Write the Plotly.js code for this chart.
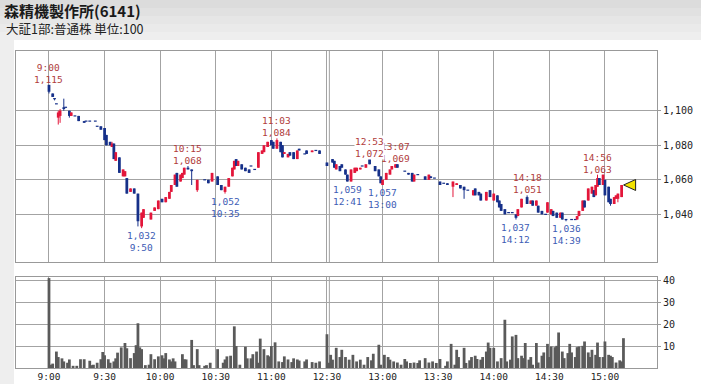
<!DOCTYPE html>
<html><head><meta charset="utf-8">
<script src="https://cdn.plot.ly/plotly-3.0.1.min.js"></script>
<style>html,body{margin:0;padding:0;background:#fff;}#chart{width:701px;height:384px;}</style>
</head><body><div id="chart"></div>
<script>
const titleText = '森精機製作所(6141)';
const subtitleText = '大証1部:普通株 単位:100';

const candleTimes = ['9:00','9:02','9:03','9:04','9:05','9:06','9:08','9:09','9:11','9:12','9:14','9:16','9:19','9:20','9:22','9:25','9:26','9:28','9:30','9:31','9:33','9:34','9:35','9:36','9:38','9:40','9:41','9:42','9:44','9:46','9:48','9:50','9:51','9:55','9:57','9:59','10:01','10:03','10:05','10:06','10:08','10:09','10:11','10:12','10:13','10:15','10:17','10:20','10:24','10:26','10:28','10:31','10:33','10:35','10:37','10:39','10:40','10:41','10:42','10:44','10:46','10:48','10:49','10:51','10:53','10:55','10:56','10:58','11:00','11:01','11:03','11:05','11:06','11:07','11:09','11:10','11:12','11:14','11:15','11:18','11:19','11:22','11:24','11:26',
'12:30','12:33','12:34','12:35','12:37','12:38','12:40','12:41','12:43','12:45','12:46','12:48','12:49','12:51','12:53','12:56','12:58','12:59','13:00','13:02','13:04','13:05','13:07','13:08','13:12','13:14','13:16','13:17','13:19','13:23','13:25','13:26','13:28','13:31','13:33','13:35','13:38','13:40','13:42','13:44','13:46','13:49','13:50','13:52','13:53','13:56','13:58','14:00','14:02','14:03','14:04','14:06','14:08','14:10','14:12','14:13','14:15','14:18','14:20','14:21','14:23','14:24','14:26','14:28','14:29','14:31','14:32','14:34','14:36','14:37','14:39','14:42','14:44','14:45','14:46','14:48','14:49','14:51','14:53','14:54','14:55','14:56','14:57','14:59','15:00','15:02','15:03','15:05','15:06','15:07','15:09'];
const openP = [1115,1110,1107,1104,1096,1097,1102,1102,1100,1097,1097,1097,1094,1094,1094,1094,1091,1091,1090,1086,1082,1079,1081,1071,1073,1062,1062,1061,1053,1055,1052,1033,1038,1037,1042,1043,1049,1047,1049,1053,1057,1064,1059,1061,1063,1067,1066,1054,1060,1060,1059,1062,1057,1053,1056,1062,1066,1072,1068,1069,1067,1066,1068,1066,1067,1075,1076,1079,1083,1082,1078,1082,1080,1075,1073,1076,1076,1072,1078,1075,1077,1076,1077,1077,
1070,1072,1071,1066,1068,1069,1066,1063,1059,1064,1065,1066,1068,1067,1072,1068,1066,1062,1057,1060,1063,1066,1067,1069,1065,1064,1064,1059,1063,1062,1060,1062,1061,1059,1058,1058,1056,1057,1057,1056,1054,1051,1055,1053,1052,1048,1054,1048,1051,1048,1046,1043,1041,1041,1040,1039,1044,1050,1046,1048,1045,1045,1042,1040,1041,1040,1042,1041,1038,1041,1037,1037,1037,1037,1039,1042,1048,1048,1052,1054,1051,1056,1061,1057,1060,1056,1049,1046,1049,1049,1050];
const highP = [1115,1110,1107,1104,1100,1101,1107,1102,1100,1099,1097,1097,1094,1094,1094,1094,1091,1091,1090,1086,1082,1082,1081,1076,1073,1066,1065,1061,1055,1055,1052,1041,1043,1041,1044,1048,1049,1050,1053,1057,1063,1064,1063,1064,1067,1068,1066,1060,1060,1060,1064,1062,1057,1056,1061,1067,1071,1072,1071,1069,1067,1066,1068,1066,1076,1077,1080,1082,1083,1082,1084,1082,1080,1076,1075,1076,1076,1077,1078,1075,1077,1077,1077,1077,
1070,1072,1071,1069,1068,1069,1066,1063,1066,1067,1067,1067,1068,1069,1072,1068,1066,1062,1060,1064,1066,1068,1069,1069,1065,1064,1064,1063,1063,1062,1063,1062,1061,1059,1058,1058,1059,1058,1057,1056,1054,1054,1055,1053,1052,1053,1054,1052,1051,1048,1046,1043,1041,1041,1040,1043,1049,1051,1048,1048,1048,1045,1042,1040,1047,1043,1042,1041,1041,1041,1037,1037,1037,1039,1042,1048,1048,1055,1056,1054,1057,1063,1061,1063,1060,1056,1049,1050,1051,1052,1057];
const lowP = [1110,1108,1106,1104,1092,1093,1100,1102,1096,1097,1097,1094,1093,1094,1094,1094,1091,1089,1083,1080,1080,1079,1072,1071,1064,1062,1062,1052,1053,1052,1033,1032,1038,1037,1042,1043,1047,1047,1049,1053,1057,1056,1059,1061,1063,1066,1057,1053,1060,1058,1059,1057,1054,1052,1056,1062,1066,1068,1068,1066,1065,1064,1068,1066,1067,1075,1076,1079,1080,1078,1078,1076,1073,1075,1073,1074,1072,1072,1077,1075,1075,1076,1077,1075,
1068,1070,1067,1066,1065,1067,1063,1059,1059,1064,1065,1066,1068,1067,1069,1065,1062,1058,1057,1060,1063,1066,1067,1067,1065,1063,1059,1059,1063,1060,1060,1061,1061,1057,1058,1057,1050,1057,1055,1049,1054,1051,1051,1051,1048,1048,1050,1048,1047,1044,1042,1040,1041,1041,1037,1039,1044,1046,1046,1045,1045,1041,1040,1040,1041,1040,1039,1038,1038,1037,1036,1037,1037,1037,1039,1042,1044,1048,1052,1050,1051,1056,1057,1057,1051,1047,1045,1046,1049,1047,1050];
const closeP = [1111,1108,1107,1104,1099,1100,1101,1102,1097,1099,1097,1094,1093,1094,1094,1094,1091,1089,1083,1080,1080,1081,1072,1076,1064,1066,1065,1052,1055,1052,1036,1041,1043,1041,1044,1048,1047,1050,1053,1057,1063,1056,1063,1064,1067,1066,1065,1060,1060,1058,1064,1057,1054,1056,1061,1067,1071,1068,1071,1066,1065,1064,1068,1066,1076,1077,1080,1082,1080,1078,1083,1076,1073,1076,1075,1074,1072,1077,1077,1075,1075,1077,1077,1075,
1068,1070,1067,1069,1065,1067,1063,1059,1066,1067,1067,1067,1068,1069,1069,1065,1062,1058,1060,1064,1066,1068,1069,1067,1065,1063,1059,1063,1063,1060,1063,1061,1061,1057,1058,1057,1059,1058,1055,1054,1054,1054,1051,1051,1048,1053,1050,1052,1047,1044,1042,1040,1041,1041,1038,1043,1049,1046,1048,1045,1048,1041,1040,1040,1047,1043,1039,1038,1041,1037,1037,1037,1037,1039,1042,1048,1044,1055,1056,1050,1057,1061,1057,1063,1051,1047,1046,1050,1051,1052,1057];

const volTimes = ['9:00','9:01','9:02','9:04','9:05','9:07','9:08','9:10','9:11','9:13','9:15','9:17','9:19','9:22','9:23','9:24','9:26','9:28','9:29','9:30','9:32','9:33','9:35','9:36','9:37','9:39','9:41','9:42','9:44','9:46','9:47','9:48','9:49','9:50','9:52','9:54','9:55','9:57','9:59','10:01','10:02','10:03','10:05','10:06','10:07','10:08','10:12','10:13','10:14','10:17','10:18','10:20','10:21','10:24','10:25','10:27','10:31','10:34','10:35','10:36','10:38','10:40','10:41','10:43','10:46','10:47','10:49','10:50','10:52','10:53','10:54','10:56','10:58','10:59','11:00','11:02','11:04','11:06','11:07','11:09','11:11','11:12','11:14','11:15','11:18','11:19','11:22','11:24','11:26',
'12:30','12:31','12:32','12:33','12:35','12:37','12:38','12:40','12:42','12:44','12:46','12:48','12:50','12:52','12:54','12:55','12:58','12:59','13:01','13:03','13:04','13:06','13:08','13:10','13:12','13:13','13:15','13:17','13:19','13:20','13:23','13:25','13:27','13:29','13:31','13:34','13:35','13:37','13:39','13:40','13:41','13:44','13:45','13:47','13:48','13:50','13:51','13:53','13:54','13:56','13:57','13:58','14:00','14:02','14:04','14:06','14:07','14:09','14:10','14:12','14:13','14:15','14:16','14:17','14:19','14:20','14:21','14:23','14:24','14:26','14:27','14:29','14:30','14:31','14:33','14:34','14:35','14:37','14:38','14:40','14:41','14:42','14:44','14:45','14:46','14:48','14:49','14:51','14:52','14:53','14:55','14:56','14:57','14:59','15:00','15:02','15:03','15:04','15:06','15:08','15:09','15:10'];
const volValues = [41,1.5,2,7.5,5,4.4,3,2.4,3.9,1,1,4,4,3.3,1.3,1.5,2.4,4,7.3,5.8,4,2.4,3,4.4,7,9.4,11.4,9,4.5,6.8,10.4,20.4,9.4,8.6,1.3,1.5,6.3,4,5.3,5.8,4.4,6.8,3.9,3,4.4,3,6.3,4,3.9,12.8,1.3,8.6,1.3,1,1.3,2.4,8.6,2.4,3.9,5.3,5.6,19,10,1.5,9.7,4.4,4.4,6.3,7.5,2.4,13.4,8.6,5.8,5.3,10,11.7,3,2.7,5.3,3.9,2.7,4.4,3.9,3.4,3,3.9,2.7,2.4,3,
15.4,2.4,6,3.8,9.2,5,8.3,5,3.8,6,3,3.8,1.5,5,3.5,6.5,10.6,1.5,6,5,3.8,3,2.5,1.5,4.1,3,2.3,2.5,2.3,3.5,4.5,2.5,3,2.3,4.1,1,3,11,1.5,8.3,5,9.2,2.3,3.5,5,5.6,4.1,3.8,5,7.5,11.6,9.2,9.2,3,4.5,22,3,3.8,14.4,15.1,4.5,5.6,4.5,11.4,3.8,5,1.5,11.4,2.5,5.6,7.1,11,5,9.8,9.5,10.1,16.2,7.5,4.5,6.8,11,7.1,5,9.5,9.8,10.1,12.1,7.1,5,8.3,6,11.6,5,5,12.1,6,5.6,5,2.5,3.5,3,13.6];

const timeTickTimes = ['9:00','9:30','10:00','10:30','11:00','12:30','13:00','13:30','14:00','14:30','15:00'];
const priceTicks = [1040,1060,1080,1100];
const volTicks = [10,20,30,40];

const highMarkTimes = ['9:00','10:15','11:03','13:07','12:53','14:18','14:56'];
const highMarkPrices = [1115,1068,1084,1069,1072,1051,1063];
const lowMarkTimes = ['9:50','10:35','12:41','13:00','14:12','14:39'];
const lowMarkPrices = [1032,1052,1059,1057,1037,1036];

// ---- helpers ----
function toIdx(t){
  const [h,m] = t.split(':').map(Number);
  const tod = h*60+m;
  return tod >= 750 ? tod - 750 + 150 : tod - 540;
}
const fmt = v => v.toLocaleString('en-US');

const W=701,H=384,ML=16,MR=44,MT=51,MB=16;
const PW=W-ML-MR, PH=H-MT-MB;
const px2x = p => (p-ML)/PW;
const py2y = p => (H-MB-p)/PH;

const RED='#e3173b', BLUE='#17318a';
const FONT='DejaVu Sans Mono, monospace';

const cx = candleTimes.map(toIdx);
const isUp = closeP.map((c,i)=>c>openP[i]);
const minBody = 0.7;
const bodyH = openP.map((o,i)=>Math.max(Math.abs(closeP[i]-o),minBody));
const bodyB = openP.map((o,i)=>Math.min(o,closeP[i]) - (bodyH[i]-Math.abs(closeP[i]-o))/2);
const colors = isUp.map(u=>u?RED:BLUE);

function wicks(up){
  const x=[],y=[];
  cx.forEach((m,i)=>{ if(isUp[i]===up){ x.push(m,m,null); y.push(lowP[i],highP[i],null);} });
  return {x,y};
}
const wu=wicks(true), wd=wicks(false);

const traces = [
  {type:'scatter',mode:'lines',x:wu.x,y:wu.y,line:{color:RED,width:1},xaxis:'x',yaxis:'y',hoverinfo:'skip',showlegend:false},
  {type:'scatter',mode:'lines',x:wd.x,y:wd.y,line:{color:BLUE,width:1},xaxis:'x',yaxis:'y',hoverinfo:'skip',showlegend:false},
  {type:'bar',x:cx,y:bodyH,base:bodyB,width:1.5,marker:{color:colors,line:{width:0}},xaxis:'x',yaxis:'y',showlegend:false},
  {type:'bar',x:volTimes.map(toIdx),y:volValues,width:1.5,marker:{color:'#5a5a5a',line:{width:0}},xaxis:'x2',yaxis:'y2',showlegend:false}
];

const xRange=[-17.8,328.1];
const tickVals = timeTickTimes.map(toIdx);
const gridC='#a3a3a3', lineC='#999999';
const xCommon = {range:xRange,tickmode:'array',tickvals:tickVals,ticktext:timeTickTimes,showgrid:true,gridcolor:gridC,gridwidth:1,zeroline:false,showline:true,linecolor:lineC,linewidth:1,mirror:true,ticks:'',fixedrange:true};

const annotations = [];
highMarkTimes.forEach((t,i)=>{
  annotations.push({xref:'x',yref:'y',x:toIdx(t),y:highMarkPrices[i],text:t+'<br>'+fmt(highMarkPrices[i]),showarrow:false,xanchor:'center',yanchor:'bottom',yshift:-1,font:{family:FONT,size:9.5,color:'#b03c3c'},bgcolor:(t==='12:53')?'#ffffff':'rgba(0,0,0,0)',borderpad:0});
});
lowMarkTimes.forEach((t,i)=>{
  annotations.push({xref:'x',yref:'y',x:toIdx(t),y:lowMarkPrices[i],text:fmt(lowMarkPrices[i])+'<br>'+t,showarrow:false,xanchor:'center',yanchor:'top',yshift:-1,font:{family:FONT,size:9.5,color:'#3d5cb5'},borderpad:0});
});
annotations.push({xref:'paper',yref:'paper',x:px2x(4),y:py2y(28),xanchor:'left',yanchor:'middle',text:subtitleText,showarrow:false,font:{family:'Noto Sans CJK JP, sans-serif',size:12.5,color:'#222'}});

const shapes = [];
const bandCols=['#dcdcdc','#e1e1e1','#e6e6e6','#eaeaea','#eeeeee'];
bandCols.forEach((c,i)=>{
  shapes.push({type:'rect',xref:'paper',yref:'paper',x0:px2x(0),x1:px2x(W),y0:py2y(i*8),y1:py2y(i*8+8),fillcolor:c,line:{width:0},layer:'below'});
});
shapes.push({type:'rect',xref:'paper',yref:'paper',x0:px2x(14),x1:px2x(W),y0:py2y(40),y1:py2y(H),fillcolor:'#ffffff',line:{width:0},layer:'below'});
[['x','y domain'],['x2','y2 domain']].forEach(([xr,yr])=>{
  shapes.push({type:'line',xref:xr,yref:yr,x0:toIdx('12:30')+1.3,x1:toIdx('12:30')+1.3,y0:0,y1:1,line:{color:gridC,width:1},layer:'below'});
});
const li=cx.length-1;
shapes.push({type:'path',xref:'x',yref:'y',xsizemode:'pixel',ysizemode:'pixel',xanchor:cx[li],yanchor:closeP[li],path:'M 2 0 L 14 5.5 L 14 -5.5 Z',fillcolor:'#f2e200',line:{color:'#222',width:1}});

const layout = {
  width:W,height:H,
  margin:{l:ML,r:MR,t:MT,b:MB},
  paper_bgcolor:'#eeeeee',plot_bgcolor:'#ffffff',
  showlegend:false,barmode:'overlay',
  title:{text:'<b>'+titleText+'</b>',x:4/W,xanchor:'left',xref:'container',y:1-11.5/H,yanchor:'middle',yref:'container',font:{family:'Noto Sans CJK JP, sans-serif',size:15,color:'#1a1a1a'}},
  xaxis:Object.assign({},xCommon,{anchor:'y',showticklabels:false}),
  xaxis2:Object.assign({},xCommon,{anchor:'y2',matches:'x',showticklabels:true,tickfont:{family:FONT,size:9.5,color:'#222'}}),
  yaxis:{domain:[py2y(262),1],range:[1012.4,1134.6],side:'right',tickmode:'array',tickvals:priceTicks,ticktext:priceTicks.map(fmt),showgrid:true,gridcolor:gridC,zeroline:false,showline:true,linecolor:lineC,mirror:true,ticks:'outside',ticklen:3,tickcolor:lineC,tickfont:{family:FONT,size:10,color:'#222'},fixedrange:true},
  yaxis2:{domain:[0,py2y(277)],range:[0,41.5],side:'right',tickmode:'array',tickvals:volTicks,ticktext:volTicks.map(String),showgrid:true,gridcolor:gridC,zeroline:false,showline:true,linecolor:lineC,mirror:true,ticks:'outside',ticklen:3,tickcolor:lineC,tickfont:{family:FONT,size:10,color:'#222'},fixedrange:true},
  annotations:annotations,
  shapes:shapes
};
Plotly.newPlot('chart',traces,layout,{staticPlot:true,displayModeBar:false});
</script></body></html>
